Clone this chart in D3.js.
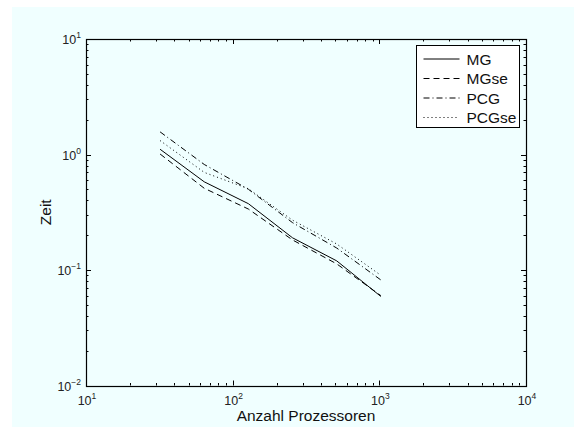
<!DOCTYPE html>
<html>
<head>
<meta charset="utf-8">
<script src="https://cdn.jsdelivr.net/npm/d3@7"></script>
<style>
body { margin: 0; background: #fff; }
svg { display: block; font-family: "Liberation Sans", Arial, sans-serif; }
</style>
</head>
<body>
<script>
"use strict";

// data
var procs = [32, 64, 128, 256, 512, 1024];
var mg    = [1.11, 0.58, 0.375, 0.19, 0.12, 0.059];
var mgse  = [1.01, 0.51, 0.337, 0.182, 0.113, 0.06];
var pcg   = [1.57, 0.82, 0.50, 0.257, 0.155, 0.082];
var pcgse = [1.32, 0.70, 0.505, 0.27, 0.168, 0.09];

var seriesNames = ["MG", "MGse", "PCG", "PCGse"];
var seriesValues = [mg, mgse, pcg, pcgse];
var seriesDash = [null, "6,4", "6,3,1,3", "1,3"];

var xTickExp = [1, 2, 3, 4];
var yTickExp = [1, 0, -1, -2];

var width = 574;
var height = 427;
var axLeft = 86, axRight = 526, axTop = 39, axBottom = 385.5;

var svg = d3.select("body").append("svg")
    .attr("width", width)
    .attr("height", height);

svg.append("rect")
    .attr("x", 12).attr("y", 7)
    .attr("width", width - 12).attr("height", height - 7)
    .attr("fill", "#f0ffff");

var x = d3.scaleLog().domain([10, 10000]).range([axLeft, axRight]);
var y = d3.scaleLog().domain([0.01, 10]).range([axBottom, axTop]);

function isMajor(v) {
    var l = Math.log10(v);
    return Math.abs(l - Math.round(l)) < 1e-9;
}

// ticks (inward, all four sides)
var tickG = svg.append("g").attr("stroke", "#000").attr("stroke-width", 1);
x.ticks().forEach(function(v) {
    var len = isMajor(v) ? 5 : 2.5;
    var px = Math.round(x(v)) + 0.5;
    tickG.append("line").attr("x1", px).attr("x2", px).attr("y1", axBottom).attr("y2", axBottom - len);
    tickG.append("line").attr("x1", px).attr("x2", px).attr("y1", axTop).attr("y2", axTop + len);
});
y.ticks().forEach(function(v) {
    var len = isMajor(v) ? 5 : 2.5;
    var py = Math.round(y(v)) + 0.5;
    tickG.append("line").attr("x1", axLeft).attr("x2", axLeft + len).attr("y1", py).attr("y2", py);
    tickG.append("line").attr("x1", axRight).attr("x2", axRight - len).attr("y1", py).attr("y2", py);
});

// axes box
svg.append("rect")
    .attr("x", Math.round(axLeft) + 0.5).attr("y", Math.round(axTop) + 0.5)
    .attr("width", Math.round(axRight) - Math.round(axLeft))
    .attr("height", Math.round(axBottom) - Math.round(axTop))
    .attr("fill", "none")
    .attr("stroke", "#000")
    .attr("stroke-width", 1.2);

// tick labels
function powLabel(g, e, px, py, anchor) {
    var t = g.append("text")
        .attr("x", px).attr("y", py)
        .attr("text-anchor", anchor)
        .attr("font-size", 12.5)
        .attr("fill", "#222");
    t.append("tspan").text("10");
    t.append("tspan").attr("dy", -6).attr("font-size", 8.5).text(String(e).replace("-", "\u2212"));
    return t;
}
var labG = svg.append("g");
xTickExp.forEach(function(e) {
    powLabel(labG, e, x(Math.pow(10, e)) + 1, 405, "middle");
});
yTickExp.forEach(function(e) {
    powLabel(labG, e, axLeft - 5, y(Math.pow(10, e)) + 5, "end");
});

// axis titles
svg.append("text")
    .attr("x", (axLeft + axRight) / 2).attr("y", 421)
    .attr("text-anchor", "middle")
    .attr("font-size", 15.5)
    .attr("fill", "#111")
    .text("Anzahl Prozessoren");
svg.append("text")
    .attr("transform", "translate(51," + ((axTop + axBottom) / 2) + ") rotate(-90)")
    .attr("text-anchor", "middle")
    .attr("font-size", 15.5)
    .attr("fill", "#111")
    .text("Zeit");

// series lines
var line = d3.line()
    .x(function(d) { return x(d[0]); })
    .y(function(d) { return y(d[1]); });

seriesValues.forEach(function(vals, i) {
    svg.append("path")
        .datum(procs.map(function(p, j) { return [p, vals[j]]; }))
        .attr("d", line)
        .attr("fill", "none")
        .attr("stroke", "#000")
        .attr("stroke-width", 1)
        .attr("stroke-dasharray", seriesDash[i]);
});

// legend
var legX = 416.5, legY = 45.5, legW = 103, rowH = 19.5;
var legend = svg.append("g");
legend.append("rect")
    .attr("x", legX).attr("y", legY)
    .attr("width", legW).attr("height", rowH * seriesNames.length + 4)
    .attr("fill", "#fff")
    .attr("stroke", "#000")
    .attr("stroke-width", 1);
seriesNames.forEach(function(name, i) {
    var ry = legY + 13.5 + i * rowH;
    legend.append("line")
        .attr("x1", legX + 7).attr("x2", legX + 43)
        .attr("y1", ry).attr("y2", ry)
        .attr("stroke", "#000")
        .attr("stroke-width", 1)
        .attr("stroke-dasharray", seriesDash[i]);
    legend.append("text")
        .attr("x", legX + 50).attr("y", ry + 5.5)
        .attr("font-size", 15.5)
        .attr("fill", "#111")
        .text(name);
});
</script>
</body>
</html>
